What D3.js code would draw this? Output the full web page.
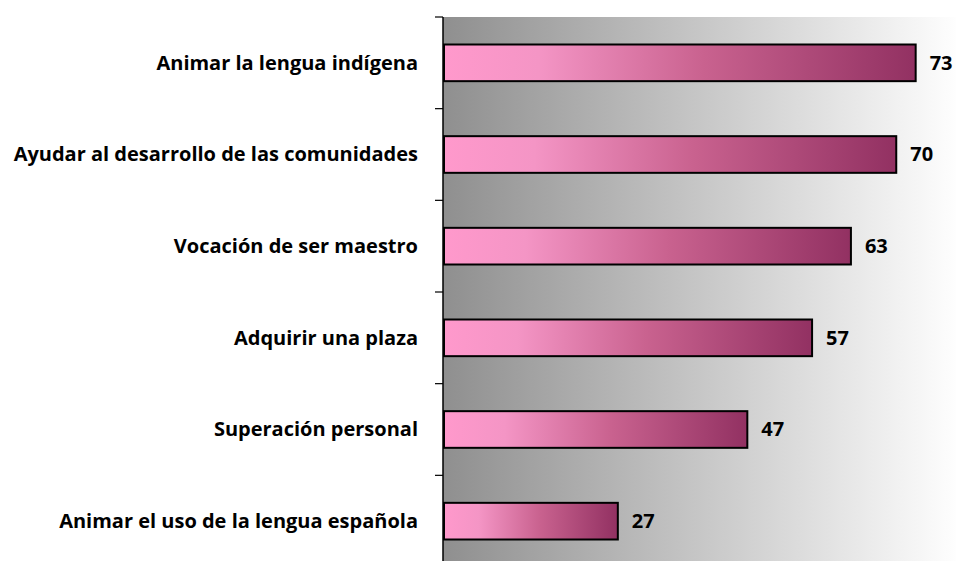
<!DOCTYPE html>
<html>
<head>
<meta charset="utf-8">
<script src="https://cdn.jsdelivr.net/npm/d3@7"></script>
<style>
  body { margin: 0; background: #fff; }
  svg { display: block; }
</style>
</head>
<body>
<div id="chart"></div>
<script>
// Chart data
const categories = [
  "Animar la lengua indígena",
  "Ayudar al desarrollo de las comunidades",
  "Vocación de ser maestro",
  "Adquirir una plaza",
  "Superación personal",
  "Animar el uso de la lengua española"
];
const values = [73, 70, 63, 57, 47, 27];

const W = 956, H = 561;
const margin = { top: 17, left: 443 };
const plotW = 518;            // runs past the right edge, like the picture
const plotH = 550;            // runs past the bottom edge
const font = "'Open Sans', sans-serif";

const svg = d3.select("#chart")
  .append("svg")
  .attr("width", W)
  .attr("height", H);

const defs = svg.append("defs");

// Gray background gradient (dark on the left, white on the right)
const bg = defs.append("linearGradient").attr("id", "bgGrad")
  .attr("x1", "0%").attr("x2", "100%").attr("y1", "0%").attr("y2", "0%");
bg.append("stop").attr("offset", "0%").attr("stop-color", "#8f8f8f");
bg.append("stop").attr("offset", "100%").attr("stop-color", "#ffffff");

// Pink to maroon gradient for each bar
const bar = defs.append("linearGradient").attr("id", "barGrad")
  .attr("x1", "0%").attr("x2", "100%").attr("y1", "0%").attr("y2", "0%");
bar.append("stop").attr("offset", "0%").attr("stop-color", "#ff99cc");
bar.append("stop").attr("offset", "20%").attr("stop-color", "#f495c5");
bar.append("stop").attr("offset", "55%").attr("stop-color", "#c9628f");
bar.append("stop").attr("offset", "100%").attr("stop-color", "#923162");

const g = svg.append("g")
  .attr("transform", `translate(${margin.left},${margin.top})`);

// Scales
const x = d3.scaleLinear().domain([0, 80]).range([0, plotW]);
const y = d3.scaleBand().domain(categories).range([0, plotH]).paddingInner(0.6).paddingOuter(0.3);
const yTicks = d3.scaleBand().domain(categories).range([0, plotH]);

// Plot background
g.append("rect")
  .attr("x", 0).attr("y", 0)
  .attr("width", plotW).attr("height", plotH)
  .attr("fill", "url(#bgGrad)");

// Bars
g.selectAll("rect.bar")
  .data(values)
  .enter()
  .append("rect")
  .attr("class", "bar")
  .attr("x", x(0) + 1)
  .attr("y", (d, i) => y(categories[i]))
  .attr("width", d => x(d) - x(0) - 1)
  .attr("height", y.bandwidth())
  .attr("fill", "url(#barGrad)")
  .attr("stroke", "#000")
  .attr("stroke-width", 2);

// Value labels
g.selectAll("text.val")
  .data(values)
  .enter()
  .append("text")
  .attr("class", "val")
  .attr("x", d => x(d) + 14)
  .attr("y", (d, i) => y(categories[i]) + y.bandwidth() / 2)
  .attr("dy", "0.34em")
  .attr("font-family", font)
  .attr("font-weight", "bold")
  .attr("font-size", 20)
  .attr("fill", "#000")
  .text(d => d);

// Left axis: line, ticks at band edges, category labels
g.append("line")
  .attr("x1", 0).attr("x2", 0)
  .attr("y1", 0).attr("y2", plotH)
  .attr("stroke", "#000").attr("stroke-width", 1.5);

g.selectAll("line.tick")
  .data(categories.concat(["end"]))
  .enter()
  .append("line")
  .attr("class", "tick")
  .attr("x1", -8).attr("x2", 0)
  .attr("y1", (d, i) => i * yTicks.step())
  .attr("y2", (d, i) => i * yTicks.step())
  .attr("stroke", "#000").attr("stroke-width", 1.2);

g.selectAll("text.cat")
  .data(categories)
  .enter()
  .append("text")
  .attr("class", "cat")
  .attr("x", -25)
  .attr("y", d => y(d) + y.bandwidth() / 2)
  .attr("dy", "0.34em")
  .attr("text-anchor", "end")
  .attr("font-family", font)
  .attr("font-weight", "bold")
  .attr("font-size", 20)
  .attr("fill", "#000")
  .text(d => d);
</script>
</body>
</html>
